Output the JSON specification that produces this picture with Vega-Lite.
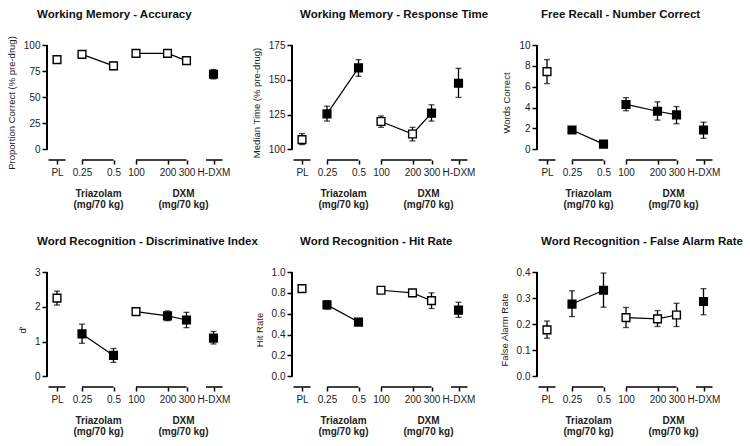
{
  "$schema": "https://vega.github.io/schema/vega-lite/v6.json",
  "padding": {"left": 6, "top": 8, "right": 5, "bottom": 5},
  "background": "white",
  "bounds": "flush",
  "columns": 3,
  "spacing": {"row": 112, "column": 69},
  "datasets": {
    "brackets": [{"x1": 1.5, "x2": 18.5}, {"x1": 35, "x2": 66.5}, {"x1": 89, "x2": 139.5}, {"x1": 159, "x2": 175.5}],
    "groups": [{"group": "Triazolam", "gpos": 51}, {"group": "DXM", "gpos": 136}]
  },
  "concat": [
    {
      "title": {"text": "Working Memory - Accuracy", "dx": -10, "dy": 5},
      "width": 176, "height": 115,
      "data": {"values": [
        {"dose": "PL", "grp": "PL", "pos": 10, "mean": 86, "lo": 84, "hi": 88, "fill": "open"},
        {"dose": "0.25", "grp": "Triazolam", "pos": 35, "mean": 91, "lo": 89, "hi": 93, "fill": "open"},
        {"dose": "0.5", "grp": "Triazolam", "pos": 66.5, "mean": 80, "lo": 76.5, "hi": 83.5, "fill": "open"},
        {"dose": "100", "grp": "DXM", "pos": 89, "mean": 92, "lo": 90.5, "hi": 93.5, "fill": "open"},
        {"dose": "200", "grp": "DXM", "pos": 120.5, "mean": 92, "lo": 90.5, "hi": 93.5, "fill": "open"},
        {"dose": "300", "grp": "DXM", "pos": 139.5, "mean": 85, "lo": 83, "hi": 87, "fill": "open"},
        {"dose": "H-DXM", "grp": "H", "pos": 166.5, "mean": 72, "lo": 67.5, "hi": 76.5, "fill": "filled"}
      ]},
      "layer": [
        {"mark": {"type": "rule", "strokeWidth": 1.5, "color": "black"},
         "encoding": {"x": {"datum": 0, "type": "quantitative", "axis": null}, "y": {"datum": 0, "type": "quantitative", "axis": null}, "y2": {"datum": 100}}},
        {"data": {"name": "brackets"}, "mark": {"type": "rule", "strokeWidth": 1.5, "color": "black"},
         "encoding": {"x": {"field": "x1", "type": "quantitative", "axis": null}, "x2": {"field": "x2"}, "y": {"datum": -10.26, "type": "quantitative", "axis": null}}},
        {"mark": {"type": "rule", "strokeWidth": 1.3, "color": "black"},
         "encoding": {"x": {"field": "pos", "type": "quantitative", "axis": null}, "y": {"field": "lo", "type": "quantitative", "axis": null}, "y2": {"field": "hi"}}},
        {"mark": {"type": "tick", "orient": "horizontal", "size": 6, "thickness": 1.3, "color": "black"},
         "encoding": {"x": {"field": "pos", "type": "quantitative", "axis": null}, "y": {"field": "lo", "type": "quantitative", "axis": null}}},
        {"mark": {"type": "tick", "orient": "horizontal", "size": 6, "thickness": 1.3, "color": "black"},
         "encoding": {"x": {"field": "pos", "type": "quantitative", "axis": null}, "y": {"field": "hi", "type": "quantitative", "axis": null}}},
        {"transform": [{"filter": "datum.grp != 'PL' && datum.grp != 'H'"}],
         "mark": {"type": "line", "color": "black", "strokeWidth": 1.2},
         "encoding": {"x": {"field": "pos", "type": "quantitative", "axis": null}, "y": {"field": "mean", "type": "quantitative", "axis": null}, "detail": {"field": "grp", "type": "nominal"}}},
        {"mark": {"type": "square", "size": 60, "stroke": "black", "strokeWidth": 1.4, "opacity": 1},
         "encoding": {
           "x": {"field": "pos", "type": "quantitative", "scale": {"domain": [0, 176], "nice": false, "zero": false},
                 "axis": {"title": null, "orient": "bottom", "values": [10, 35, 66.5, 89, 120.5, 139.5, 166.5], "labelExpr": "datum.value==10?'PL':datum.value==35?'0.25':datum.value==66.5?'0.5':datum.value==89?'100':datum.value==120.5?'200':datum.value==139.5?'300':'H-DXM'"}},
           "y": {"field": "mean", "type": "quantitative", "scale": {"domain": [-10.26, 100], "nice": false, "zero": false},
                 "axis": {"title": "Proportion Correct (% pre-drug)", "orient": "left", "values": [0, 25, 50, 75, 100]}},
           "fill": {"field": "fill", "type": "nominal", "scale": {"domain": ["open", "filled"], "range": ["white", "black"]}, "legend": null}}},
        {"data": {"name": "groups"}, "mark": {"type": "point", "opacity": 0},
         "encoding": {"x": {"field": "gpos", "type": "quantitative", "axis": {"title": null, "orient": "bottom", "values": [51, 136], "ticks": false, "labelPadding": 28, "labelFontWeight": "bold", "labelLineHeight": 11, "labelExpr": "datum.value < 100 ? ['Triazolam', '(mg/70 kg)'] : ['DXM', '(mg/70 kg)']"}},
                      "y": {"datum": -10.26, "type": "quantitative", "axis": null}}}
      ],
      "resolve": {"axis": {"x": "independent", "y": "independent"}}
    },
    {
      "title": {"text": "Working Memory - Response Time", "dx": 8},
      "width": 176, "height": 115,
      "data": {"values": [
        {"dose": "PL", "grp": "PL", "pos": 10, "mean": 107, "lo": 103.4, "hi": 111.3, "fill": "open"},
        {"dose": "0.25", "grp": "Triazolam", "pos": 35, "mean": 125.5, "lo": 120.3, "hi": 131, "fill": "filled"},
        {"dose": "0.5", "grp": "Triazolam", "pos": 66.5, "mean": 158.5, "lo": 152.5, "hi": 164.5, "fill": "filled"},
        {"dose": "100", "grp": "DXM", "pos": 89, "mean": 120, "lo": 115.8, "hi": 124, "fill": "open"},
        {"dose": "200", "grp": "DXM", "pos": 120.5, "mean": 111, "lo": 106, "hi": 115.8, "fill": "open"},
        {"dose": "300", "grp": "DXM", "pos": 139.5, "mean": 126, "lo": 120.3, "hi": 132, "fill": "filled"},
        {"dose": "H-DXM", "grp": "H", "pos": 166.5, "mean": 147.5, "lo": 137.3, "hi": 158.2, "fill": "filled"}
      ]},
      "layer": [
        {"mark": {"type": "rule", "strokeWidth": 1.5, "color": "black"},
         "encoding": {"x": {"datum": 0, "type": "quantitative", "axis": null}, "y": {"datum": 100, "type": "quantitative", "axis": null}, "y2": {"datum": 175}}},
        {"data": {"name": "brackets"}, "mark": {"type": "rule", "strokeWidth": 1.5, "color": "black"},
         "encoding": {"x": {"field": "x1", "type": "quantitative", "axis": null}, "x2": {"field": "x2"}, "y": {"datum": 92.3, "type": "quantitative", "axis": null}}},
        {"mark": {"type": "rule", "strokeWidth": 1.3, "color": "black"},
         "encoding": {"x": {"field": "pos", "type": "quantitative", "axis": null}, "y": {"field": "lo", "type": "quantitative", "axis": null}, "y2": {"field": "hi"}}},
        {"mark": {"type": "tick", "orient": "horizontal", "size": 6, "thickness": 1.3, "color": "black"},
         "encoding": {"x": {"field": "pos", "type": "quantitative", "axis": null}, "y": {"field": "lo", "type": "quantitative", "axis": null}}},
        {"mark": {"type": "tick", "orient": "horizontal", "size": 6, "thickness": 1.3, "color": "black"},
         "encoding": {"x": {"field": "pos", "type": "quantitative", "axis": null}, "y": {"field": "hi", "type": "quantitative", "axis": null}}},
        {"transform": [{"filter": "datum.grp != 'PL' && datum.grp != 'H'"}],
         "mark": {"type": "line", "color": "black", "strokeWidth": 1.2},
         "encoding": {"x": {"field": "pos", "type": "quantitative", "axis": null}, "y": {"field": "mean", "type": "quantitative", "axis": null}, "detail": {"field": "grp", "type": "nominal"}}},
        {"mark": {"type": "square", "size": 60, "stroke": "black", "strokeWidth": 1.4, "opacity": 1},
         "encoding": {
           "x": {"field": "pos", "type": "quantitative", "scale": {"domain": [0, 176], "nice": false, "zero": false},
                 "axis": {"title": null, "orient": "bottom", "values": [10, 35, 66.5, 89, 120.5, 139.5, 166.5], "labelExpr": "datum.value==10?'PL':datum.value==35?'0.25':datum.value==66.5?'0.5':datum.value==89?'100':datum.value==120.5?'200':datum.value==139.5?'300':'H-DXM'"}},
           "y": {"field": "mean", "type": "quantitative", "scale": {"domain": [92.3, 175], "nice": false, "zero": false},
                 "axis": {"title": "Median Time (% pre-drug)", "orient": "left", "values": [100, 125, 150, 175]}},
           "fill": {"field": "fill", "type": "nominal", "scale": {"domain": ["open", "filled"], "range": ["white", "black"]}, "legend": null}}},
        {"data": {"name": "groups"}, "mark": {"type": "point", "opacity": 0},
         "encoding": {"x": {"field": "gpos", "type": "quantitative", "axis": {"title": null, "orient": "bottom", "values": [51, 136], "ticks": false, "labelPadding": 28, "labelFontWeight": "bold", "labelLineHeight": 11, "labelExpr": "datum.value < 100 ? ['Triazolam', '(mg/70 kg)'] : ['DXM', '(mg/70 kg)']"}},
                      "y": {"datum": 92.3, "type": "quantitative", "axis": null}}}
      ],
      "resolve": {"axis": {"x": "independent", "y": "independent"}}
    },
    {
      "title": {"text": "Free Recall - Number Correct", "dx": 4},
      "width": 176, "height": 115,
      "data": {"values": [
        {"dose": "PL", "grp": "PL", "pos": 10, "mean": 7.45, "lo": 6.3, "hi": 8.6, "fill": "open"},
        {"dose": "0.25", "grp": "Triazolam", "pos": 35, "mean": 1.85, "lo": 1.55, "hi": 2.15, "fill": "filled"},
        {"dose": "0.5", "grp": "Triazolam", "pos": 66.5, "mean": 0.5, "lo": 0.35, "hi": 0.65, "fill": "filled"},
        {"dose": "100", "grp": "DXM", "pos": 89, "mean": 4.3, "lo": 3.7, "hi": 4.95, "fill": "filled"},
        {"dose": "200", "grp": "DXM", "pos": 120.5, "mean": 3.65, "lo": 2.8, "hi": 4.55, "fill": "filled"},
        {"dose": "300", "grp": "DXM", "pos": 139.5, "mean": 3.3, "lo": 2.45, "hi": 4.1, "fill": "filled"},
        {"dose": "H-DXM", "grp": "H", "pos": 166.5, "mean": 1.85, "lo": 1.05, "hi": 2.6, "fill": "filled"}
      ]},
      "layer": [
        {"mark": {"type": "rule", "strokeWidth": 1.5, "color": "black"},
         "encoding": {"x": {"datum": 0, "type": "quantitative", "axis": null}, "y": {"datum": 0, "type": "quantitative", "axis": null}, "y2": {"datum": 10}}},
        {"data": {"name": "brackets"}, "mark": {"type": "rule", "strokeWidth": 1.5, "color": "black"},
         "encoding": {"x": {"field": "x1", "type": "quantitative", "axis": null}, "x2": {"field": "x2"}, "y": {"datum": -1.026, "type": "quantitative", "axis": null}}},
        {"mark": {"type": "rule", "strokeWidth": 1.3, "color": "black"},
         "encoding": {"x": {"field": "pos", "type": "quantitative", "axis": null}, "y": {"field": "lo", "type": "quantitative", "axis": null}, "y2": {"field": "hi"}}},
        {"mark": {"type": "tick", "orient": "horizontal", "size": 6, "thickness": 1.3, "color": "black"},
         "encoding": {"x": {"field": "pos", "type": "quantitative", "axis": null}, "y": {"field": "lo", "type": "quantitative", "axis": null}}},
        {"mark": {"type": "tick", "orient": "horizontal", "size": 6, "thickness": 1.3, "color": "black"},
         "encoding": {"x": {"field": "pos", "type": "quantitative", "axis": null}, "y": {"field": "hi", "type": "quantitative", "axis": null}}},
        {"transform": [{"filter": "datum.grp != 'PL' && datum.grp != 'H'"}],
         "mark": {"type": "line", "color": "black", "strokeWidth": 1.2},
         "encoding": {"x": {"field": "pos", "type": "quantitative", "axis": null}, "y": {"field": "mean", "type": "quantitative", "axis": null}, "detail": {"field": "grp", "type": "nominal"}}},
        {"mark": {"type": "square", "size": 60, "stroke": "black", "strokeWidth": 1.4, "opacity": 1},
         "encoding": {
           "x": {"field": "pos", "type": "quantitative", "scale": {"domain": [0, 176], "nice": false, "zero": false},
                 "axis": {"title": null, "orient": "bottom", "values": [10, 35, 66.5, 89, 120.5, 139.5, 166.5], "labelExpr": "datum.value==10?'PL':datum.value==35?'0.25':datum.value==66.5?'0.5':datum.value==89?'100':datum.value==120.5?'200':datum.value==139.5?'300':'H-DXM'"}},
           "y": {"field": "mean", "type": "quantitative", "scale": {"domain": [-1.026, 10], "nice": false, "zero": false},
                 "axis": {"title": "Words Correct", "orient": "left", "values": [0, 2, 4, 6, 8, 10]}},
           "fill": {"field": "fill", "type": "nominal", "scale": {"domain": ["open", "filled"], "range": ["white", "black"]}, "legend": null}}},
        {"data": {"name": "groups"}, "mark": {"type": "point", "opacity": 0},
         "encoding": {"x": {"field": "gpos", "type": "quantitative", "axis": {"title": null, "orient": "bottom", "values": [51, 136], "ticks": false, "labelPadding": 28, "labelFontWeight": "bold", "labelLineHeight": 11, "labelExpr": "datum.value < 100 ? ['Triazolam', '(mg/70 kg)'] : ['DXM', '(mg/70 kg)']"}},
                      "y": {"datum": -1.026, "type": "quantitative", "axis": null}}}
      ],
      "resolve": {"axis": {"x": "independent", "y": "independent"}}
    },
    {
      "title": {"text": "Word Recognition - Discriminative Index", "dx": -10},
      "width": 176, "height": 115,
      "data": {"values": [
        {"dose": "PL", "grp": "PL", "pos": 10, "mean": 2.25, "lo": 2.05, "hi": 2.45, "fill": "open"},
        {"dose": "0.25", "grp": "Triazolam", "pos": 35, "mean": 1.22, "lo": 0.95, "hi": 1.5, "fill": "filled"},
        {"dose": "0.5", "grp": "Triazolam", "pos": 66.5, "mean": 0.6, "lo": 0.4, "hi": 0.8, "fill": "filled"},
        {"dose": "100", "grp": "DXM", "pos": 89, "mean": 1.86, "lo": 1.76, "hi": 1.96, "fill": "open"},
        {"dose": "200", "grp": "DXM", "pos": 120.5, "mean": 1.74, "lo": 1.6, "hi": 1.88, "fill": "filled"},
        {"dose": "300", "grp": "DXM", "pos": 139.5, "mean": 1.62, "lo": 1.4, "hi": 1.84, "fill": "filled"},
        {"dose": "H-DXM", "grp": "H", "pos": 166.5, "mean": 1.1, "lo": 0.93, "hi": 1.29, "fill": "filled"}
      ]},
      "layer": [
        {"mark": {"type": "rule", "strokeWidth": 1.5, "color": "black"},
         "encoding": {"x": {"datum": 0, "type": "quantitative", "axis": null}, "y": {"datum": 0, "type": "quantitative", "axis": null}, "y2": {"datum": 3}}},
        {"data": {"name": "brackets"}, "mark": {"type": "rule", "strokeWidth": 1.5, "color": "black"},
         "encoding": {"x": {"field": "x1", "type": "quantitative", "axis": null}, "x2": {"field": "x2"}, "y": {"datum": -0.308, "type": "quantitative", "axis": null}}},
        {"mark": {"type": "rule", "strokeWidth": 1.3, "color": "black"},
         "encoding": {"x": {"field": "pos", "type": "quantitative", "axis": null}, "y": {"field": "lo", "type": "quantitative", "axis": null}, "y2": {"field": "hi"}}},
        {"mark": {"type": "tick", "orient": "horizontal", "size": 6, "thickness": 1.3, "color": "black"},
         "encoding": {"x": {"field": "pos", "type": "quantitative", "axis": null}, "y": {"field": "lo", "type": "quantitative", "axis": null}}},
        {"mark": {"type": "tick", "orient": "horizontal", "size": 6, "thickness": 1.3, "color": "black"},
         "encoding": {"x": {"field": "pos", "type": "quantitative", "axis": null}, "y": {"field": "hi", "type": "quantitative", "axis": null}}},
        {"transform": [{"filter": "datum.grp != 'PL' && datum.grp != 'H'"}],
         "mark": {"type": "line", "color": "black", "strokeWidth": 1.2},
         "encoding": {"x": {"field": "pos", "type": "quantitative", "axis": null}, "y": {"field": "mean", "type": "quantitative", "axis": null}, "detail": {"field": "grp", "type": "nominal"}}},
        {"mark": {"type": "square", "size": 60, "stroke": "black", "strokeWidth": 1.4, "opacity": 1},
         "encoding": {
           "x": {"field": "pos", "type": "quantitative", "scale": {"domain": [0, 176], "nice": false, "zero": false},
                 "axis": {"title": null, "orient": "bottom", "values": [10, 35, 66.5, 89, 120.5, 139.5, 166.5], "labelExpr": "datum.value==10?'PL':datum.value==35?'0.25':datum.value==66.5?'0.5':datum.value==89?'100':datum.value==120.5?'200':datum.value==139.5?'300':'H-DXM'"}},
           "y": {"field": "mean", "type": "quantitative", "scale": {"domain": [-0.308, 3], "nice": false, "zero": false},
                 "axis": {"title": "d'", "orient": "left", "values": [0, 1, 2, 3], "format": "d"}},
           "fill": {"field": "fill", "type": "nominal", "scale": {"domain": ["open", "filled"], "range": ["white", "black"]}, "legend": null}}},
        {"data": {"name": "groups"}, "mark": {"type": "point", "opacity": 0},
         "encoding": {"x": {"field": "gpos", "type": "quantitative", "axis": {"title": null, "orient": "bottom", "values": [51, 136], "ticks": false, "labelPadding": 28, "labelFontWeight": "bold", "labelLineHeight": 11, "labelExpr": "datum.value < 100 ? ['Triazolam', '(mg/70 kg)'] : ['DXM', '(mg/70 kg)']"}},
                      "y": {"datum": -0.308, "type": "quantitative", "axis": null}}}
      ],
      "resolve": {"axis": {"x": "independent", "y": "independent"}}
    },
    {
      "title": {"text": "Word Recognition - Hit Rate", "dx": 8},
      "width": 176, "height": 115,
      "data": {"values": [
        {"dose": "PL", "grp": "PL", "pos": 10, "mean": 0.84, "lo": 0.82, "hi": 0.86, "fill": "open"},
        {"dose": "0.25", "grp": "Triazolam", "pos": 35, "mean": 0.685, "lo": 0.645, "hi": 0.725, "fill": "filled"},
        {"dose": "0.5", "grp": "Triazolam", "pos": 66.5, "mean": 0.52, "lo": 0.49, "hi": 0.55, "fill": "filled"},
        {"dose": "100", "grp": "DXM", "pos": 89, "mean": 0.825, "lo": 0.81, "hi": 0.84, "fill": "open"},
        {"dose": "200", "grp": "DXM", "pos": 120.5, "mean": 0.8, "lo": 0.78, "hi": 0.82, "fill": "open"},
        {"dose": "300", "grp": "DXM", "pos": 139.5, "mean": 0.725, "lo": 0.65, "hi": 0.8, "fill": "open"},
        {"dose": "H-DXM", "grp": "H", "pos": 166.5, "mean": 0.635, "lo": 0.565, "hi": 0.71, "fill": "filled"}
      ]},
      "layer": [
        {"mark": {"type": "rule", "strokeWidth": 1.5, "color": "black"},
         "encoding": {"x": {"datum": 0, "type": "quantitative", "axis": null}, "y": {"datum": 0, "type": "quantitative", "axis": null}, "y2": {"datum": 1}}},
        {"data": {"name": "brackets"}, "mark": {"type": "rule", "strokeWidth": 1.5, "color": "black"},
         "encoding": {"x": {"field": "x1", "type": "quantitative", "axis": null}, "x2": {"field": "x2"}, "y": {"datum": -0.1026, "type": "quantitative", "axis": null}}},
        {"mark": {"type": "rule", "strokeWidth": 1.3, "color": "black"},
         "encoding": {"x": {"field": "pos", "type": "quantitative", "axis": null}, "y": {"field": "lo", "type": "quantitative", "axis": null}, "y2": {"field": "hi"}}},
        {"mark": {"type": "tick", "orient": "horizontal", "size": 6, "thickness": 1.3, "color": "black"},
         "encoding": {"x": {"field": "pos", "type": "quantitative", "axis": null}, "y": {"field": "lo", "type": "quantitative", "axis": null}}},
        {"mark": {"type": "tick", "orient": "horizontal", "size": 6, "thickness": 1.3, "color": "black"},
         "encoding": {"x": {"field": "pos", "type": "quantitative", "axis": null}, "y": {"field": "hi", "type": "quantitative", "axis": null}}},
        {"transform": [{"filter": "datum.grp != 'PL' && datum.grp != 'H'"}],
         "mark": {"type": "line", "color": "black", "strokeWidth": 1.2},
         "encoding": {"x": {"field": "pos", "type": "quantitative", "axis": null}, "y": {"field": "mean", "type": "quantitative", "axis": null}, "detail": {"field": "grp", "type": "nominal"}}},
        {"mark": {"type": "square", "size": 60, "stroke": "black", "strokeWidth": 1.4, "opacity": 1},
         "encoding": {
           "x": {"field": "pos", "type": "quantitative", "scale": {"domain": [0, 176], "nice": false, "zero": false},
                 "axis": {"title": null, "orient": "bottom", "values": [10, 35, 66.5, 89, 120.5, 139.5, 166.5], "labelExpr": "datum.value==10?'PL':datum.value==35?'0.25':datum.value==66.5?'0.5':datum.value==89?'100':datum.value==120.5?'200':datum.value==139.5?'300':'H-DXM'"}},
           "y": {"field": "mean", "type": "quantitative", "scale": {"domain": [-0.1026, 1], "nice": false, "zero": false},
                 "axis": {"title": "Hit Rate", "orient": "left", "values": [0, 0.2, 0.4, 0.6, 0.8, 1], "format": ".1f"}},
           "fill": {"field": "fill", "type": "nominal", "scale": {"domain": ["open", "filled"], "range": ["white", "black"]}, "legend": null}}},
        {"data": {"name": "groups"}, "mark": {"type": "point", "opacity": 0},
         "encoding": {"x": {"field": "gpos", "type": "quantitative", "axis": {"title": null, "orient": "bottom", "values": [51, 136], "ticks": false, "labelPadding": 28, "labelFontWeight": "bold", "labelLineHeight": 11, "labelExpr": "datum.value < 100 ? ['Triazolam', '(mg/70 kg)'] : ['DXM', '(mg/70 kg)']"}},
                      "y": {"datum": -0.1026, "type": "quantitative", "axis": null}}}
      ],
      "resolve": {"axis": {"x": "independent", "y": "independent"}}
    },
    {
      "title": {"text": "Word Recognition - False Alarm Rate", "dx": 4},
      "width": 176, "height": 115,
      "data": {"values": [
        {"dose": "PL", "grp": "PL", "pos": 10, "mean": 0.178, "lo": 0.146, "hi": 0.212, "fill": "open"},
        {"dose": "0.25", "grp": "Triazolam", "pos": 35, "mean": 0.277, "lo": 0.229, "hi": 0.328, "fill": "filled"},
        {"dose": "0.5", "grp": "Triazolam", "pos": 66.5, "mean": 0.33, "lo": 0.265, "hi": 0.396, "fill": "filled"},
        {"dose": "100", "grp": "DXM", "pos": 89, "mean": 0.225, "lo": 0.187, "hi": 0.264, "fill": "open"},
        {"dose": "200", "grp": "DXM", "pos": 120.5, "mean": 0.22, "lo": 0.191, "hi": 0.252, "fill": "open"},
        {"dose": "300", "grp": "DXM", "pos": 139.5, "mean": 0.235, "lo": 0.191, "hi": 0.28, "fill": "open"},
        {"dose": "H-DXM", "grp": "H", "pos": 166.5, "mean": 0.287, "lo": 0.236, "hi": 0.336, "fill": "filled"}
      ]},
      "layer": [
        {"mark": {"type": "rule", "strokeWidth": 1.5, "color": "black"},
         "encoding": {"x": {"datum": 0, "type": "quantitative", "axis": null}, "y": {"datum": 0, "type": "quantitative", "axis": null}, "y2": {"datum": 0.4}}},
        {"data": {"name": "brackets"}, "mark": {"type": "rule", "strokeWidth": 1.5, "color": "black"},
         "encoding": {"x": {"field": "x1", "type": "quantitative", "axis": null}, "x2": {"field": "x2"}, "y": {"datum": -0.041, "type": "quantitative", "axis": null}}},
        {"mark": {"type": "rule", "strokeWidth": 1.3, "color": "black"},
         "encoding": {"x": {"field": "pos", "type": "quantitative", "axis": null}, "y": {"field": "lo", "type": "quantitative", "axis": null}, "y2": {"field": "hi"}}},
        {"mark": {"type": "tick", "orient": "horizontal", "size": 6, "thickness": 1.3, "color": "black"},
         "encoding": {"x": {"field": "pos", "type": "quantitative", "axis": null}, "y": {"field": "lo", "type": "quantitative", "axis": null}}},
        {"mark": {"type": "tick", "orient": "horizontal", "size": 6, "thickness": 1.3, "color": "black"},
         "encoding": {"x": {"field": "pos", "type": "quantitative", "axis": null}, "y": {"field": "hi", "type": "quantitative", "axis": null}}},
        {"transform": [{"filter": "datum.grp != 'PL' && datum.grp != 'H'"}],
         "mark": {"type": "line", "color": "black", "strokeWidth": 1.2},
         "encoding": {"x": {"field": "pos", "type": "quantitative", "axis": null}, "y": {"field": "mean", "type": "quantitative", "axis": null}, "detail": {"field": "grp", "type": "nominal"}}},
        {"mark": {"type": "square", "size": 60, "stroke": "black", "strokeWidth": 1.4, "opacity": 1},
         "encoding": {
           "x": {"field": "pos", "type": "quantitative", "scale": {"domain": [0, 176], "nice": false, "zero": false},
                 "axis": {"title": null, "orient": "bottom", "values": [10, 35, 66.5, 89, 120.5, 139.5, 166.5], "labelExpr": "datum.value==10?'PL':datum.value==35?'0.25':datum.value==66.5?'0.5':datum.value==89?'100':datum.value==120.5?'200':datum.value==139.5?'300':'H-DXM'"}},
           "y": {"field": "mean", "type": "quantitative", "scale": {"domain": [-0.041, 0.4], "nice": false, "zero": false},
                 "axis": {"title": "False Alarm Rate", "orient": "left", "values": [0, 0.1, 0.2, 0.3, 0.4], "format": ".1f"}},
           "fill": {"field": "fill", "type": "nominal", "scale": {"domain": ["open", "filled"], "range": ["white", "black"]}, "legend": null}}},
        {"data": {"name": "groups"}, "mark": {"type": "point", "opacity": 0},
         "encoding": {"x": {"field": "gpos", "type": "quantitative", "axis": {"title": null, "orient": "bottom", "values": [51, 136], "ticks": false, "labelPadding": 28, "labelFontWeight": "bold", "labelLineHeight": 11, "labelExpr": "datum.value < 100 ? ['Triazolam', '(mg/70 kg)'] : ['DXM', '(mg/70 kg)']"}},
                      "y": {"datum": -0.041, "type": "quantitative", "axis": null}}}
      ],
      "resolve": {"axis": {"x": "independent", "y": "independent"}}
    }
  ],
  "config": {
    "view": {"stroke": null},
    "font": "Liberation Sans",
    "title": {"font": "Liberation Sans", "fontSize": 11.5, "fontWeight": "bold", "color": "#111", "anchor": "start", "frame": "group", "offset": 20},
    "axis": {"domain": false, "grid": false, "tickColor": "black", "tickWidth": 1.5, "labelFont": "Liberation Sans", "labelFontSize": 10, "labelColor": "#222", "titleFont": "Liberation Sans", "titleFontSize": 9.5, "titleFontWeight": "normal", "titleColor": "#222"},
    "axisX": {"labelFlush": false, "labelOverlap": false, "labelBound": false, "tickSize": 4, "labelPadding": 3},
    "axisY": {"tickSize": 5, "labelPadding": 2, "titlePadding": 7}
  }
}
